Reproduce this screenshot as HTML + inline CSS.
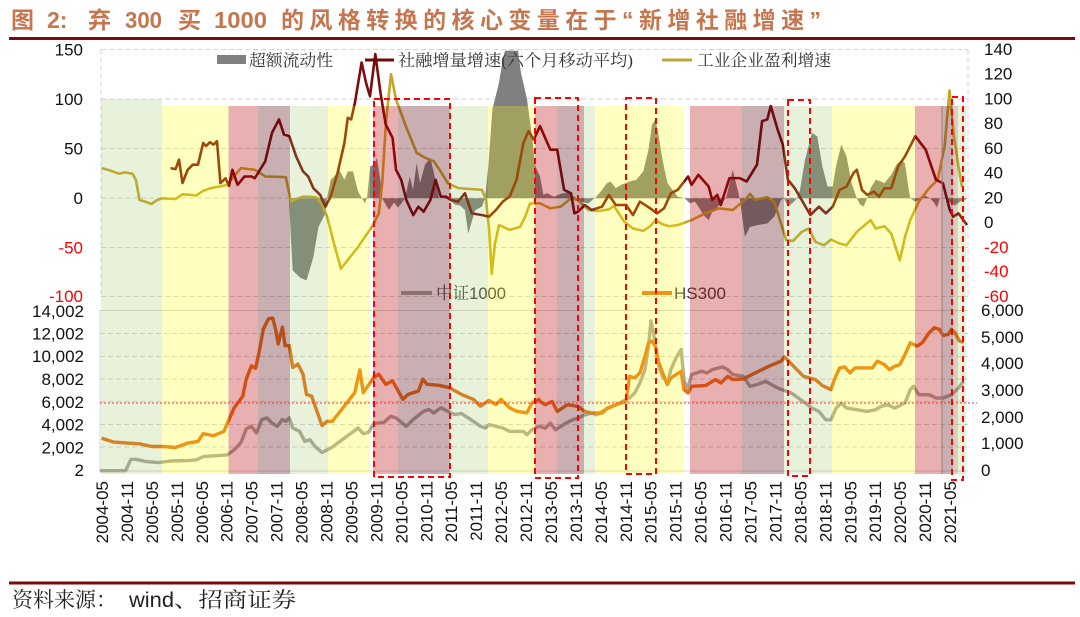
<!DOCTYPE html>
<html><head><meta charset="utf-8"><style>
html,body{margin:0;padding:0;background:#fff;}
svg{display:block;}
.ax{font-family:"Liberation Sans",sans-serif;font-size:17px;fill:#111;}
.neg{fill:#ff0000;}
.lg{font-family:"Liberation Serif","Noto Serif CJK SC",serif;font-size:16.5px;fill:#333;}
</style></head><body>
<svg width="1080" height="617" viewBox="0 0 1080 617" xmlns="http://www.w3.org/2000/svg">
<!-- Title -->
<g font-family="'Liberation Sans','Noto Sans CJK SC',sans-serif" font-size="23" font-weight="bold" fill="#c5764f">
<text x="11" y="28">图</text>
<text x="47" y="28">2:</text>
<text x="88" y="28">弃</text>
<text x="125" y="28" textLength="37" lengthAdjust="spacingAndGlyphs">300</text>
<text x="178" y="28">买</text>
<text x="214" y="28" textLength="53" lengthAdjust="spacingAndGlyphs">1000</text>
<text x="281" y="28" textLength="540" lengthAdjust="spacing">的风格转换的核心变量在于“新增社融增速”</text>
</g>
<rect x="9" y="37" width="1066" height="3" fill="#7f0a0a"/>

<!-- Gridlines top -->
<g stroke="#d4d4d4" stroke-width="1" stroke-dasharray="5,3" fill="none">
<line x1="101" y1="49.5" x2="968" y2="49.5"/>
<line x1="101" y1="99" x2="968" y2="99"/>
<line x1="101" y1="148.5" x2="968" y2="148.5"/>
<line x1="101" y1="198" x2="968" y2="198"/>
<line x1="101" y1="247.5" x2="968" y2="247.5"/>
<line x1="101" y1="296.5" x2="968" y2="296.5"/>
<line x1="101" y1="49.5" x2="101" y2="296.5"/>
<line x1="968" y1="49.5" x2="968" y2="296.5"/>
</g>
<!-- Gridlines bottom -->
<g stroke="#d4d4d4" stroke-width="1" fill="none">
<line x1="100" y1="310.5" x2="968" y2="310.5"/>
<g stroke-dasharray="5,3">
<line x1="100" y1="333.5" x2="968" y2="333.5"/>
<line x1="100" y1="356.5" x2="968" y2="356.5"/>
<line x1="100" y1="379" x2="968" y2="379"/>
<line x1="100" y1="401.5" x2="968" y2="401.5"/>
<line x1="100" y1="424.5" x2="968" y2="424.5"/>
<line x1="100" y1="447" x2="968" y2="447"/>
</g>
<line x1="100" y1="310" x2="100" y2="471"/>
<line x1="100" y1="471" x2="968" y2="471"/>
</g>

<!-- Top series -->
<g transform="matrix(1,0,0,0.9745,0,4.77)">
<path fill="#808080" d="M289,198.6 L291,241.6 292.7,272.6 300,280 306.5,283 313.4,258.8 318.5,227.9 325.4,214 327,198.6 330.6,179.6 335.7,174.5 339.2,169.3 344.4,179.6 347.8,171 353,171 358.1,191.7 362,198.6 365,203.7 367,198.6 370.2,165.9 373.6,164.1 377,157.3 380.5,181.4 382,198.6 389,210.6 394,203 398,208 402,203 405,198.6 409.8,176.2 413,190 416.7,162.4 420,183 425,164 430.4,157.3 434,173 439,198.6 447,199 455,205 460,206 464.9,210.6 468.3,234.7 475,211 482,207 485,198.6 488.3,165.9 492.4,107.3 499,80 503,55 505,47 518,47 521,70 527,97 532,135 535.5,166 540,176.2 543.4,195 547,193.4 553.8,196.9 560.7,194 567.5,192.7 574.4,197 578,199.6 581.3,202 588,204 593,199.6 595,198.6 602,190 607,183 610.6,181.4 615.8,188.3 621,184.8 629.5,181.4 636.4,179.6 643.3,171 648.5,148.7 652,122.8 655.4,117.7 658.8,134.9 662.2,157.3 667.4,183 677.7,196.9 684.6,198.6 689.8,203.7 695,202 698.4,207.2 703.6,215.8 708.7,221 712,213 720,205 726,198.6 732.8,169.3 739.7,198.6 744.9,238.2 750,227.9 758,226 767.3,224.4 774.2,217.5 781,200.3 784,198.6 788,207.2 793,203 797,198.6 800,190 805,159 812,131.4 817.2,134.9 822.4,165.9 827.5,186.5 832.7,186.5 836,165.9 841.3,143.5 846.5,155.5 851.6,183 856.8,198.6 860,205 863.7,207.2 867,198.6 870.6,188.3 875.7,179.6 880,181 884.4,183 891.2,174.5 896.4,164.1 901.6,159 905,163 908,185 910.2,198.6 915,202 920,200 925,196 930,198.6 934,203 937,208 940,198.6 945,198 950,203 955,206 960,202 965,200 967,198.6 Z"/>
<path fill="none" stroke="#c3a528" stroke-width="2.6" stroke-linejoin="round" d="M101.6,167.6 L110,170 118.8,173.4 125,172 132.6,173.4 136,180 139.5,200.3 145,202 151.5,204.4 156,201 161.8,198.6 168,199 175.6,199.3 182.5,194.5 190,195 196.3,195.8 203,191 210,188.3 220,186.5 227.3,184.8 234,176 241,167.6 248,168.5 254.8,169.3 265.2,176.2 275,176.5 285.8,176.9 291,202 297,199 303,196.9 310,197 316.8,197.9 322,205 327.1,217.5 334,245 340.9,270.9 350,259 358.1,248.5 365,238 371.9,227.9 378.8,214.1 382.2,183.1 386,120 391,71.3 396,97 406,125 416.7,152 425,157 433.9,160.7 440,170 447.7,183 458,188 470,189 482,190 486,200 489,228 491.7,276 495,245 499,226 509.6,231 520,228 525,218 530,204 540,203.7 550.3,208.9 560.7,207.2 571,198.6 577.9,200.3 588.2,210.6 598.5,211.7 608.9,210 614,206.5 624.4,222.7 633,229.6 643.3,232 650.2,227.2 655.4,221 662.2,225.1 669.1,227.2 677.7,226.1 691.5,221 705.3,214 719,208.9 732.8,210.6 746.6,198.6 750,194.1 755.2,200.3 767.3,197.6 774.2,202 781,224.4 786.2,241.6 793.1,242.3 801.7,233 808.6,229.6 815.5,243.3 824.1,246.8 831,240.9 839.6,245 846.5,246.8 856.8,233 870.6,221 875.7,229.6 884.4,227.2 891.2,234.7 899.8,262.3 905,238.2 910.2,221 918.8,202 929.1,188.3 937.7,179.6 944.6,145.2 949.5,88 954,135 958.5,166 962,187"/>
<path fill="none" stroke="#7b0d0d" stroke-width="2.6" stroke-linejoin="round" d="M170.5,167.6 L175.6,168.6 179,159 182.5,183 187.7,169.3 192.8,164.1 198,164.1 203.2,141.8 206,145 210,141 213.5,143.5 217,140 220.4,183 225.5,178 229,185.8 232.4,169.3 237.6,184.8 244.5,176.2 251.4,176.2 254.8,178 260,169.3 265.2,160.7 272,131.4 279,117.7 284,133.2 289.3,134.9 296.1,155.5 303,171 308.2,176.2 313.4,188.3 320.2,195.1 325.4,207.2 330.6,196.9 337.5,172.8 344.4,141.8 347.8,115.9 351.2,117.7 355,100 361.6,59.2 366,80 370,93.9 375.3,50.5 380.5,90.5 385.7,122.8 392.6,136.6 396,169.3 401.2,179.6 406.3,200.3 413.2,215.8 418.4,207.2 423.6,212.4 430.4,200.3 435.6,179.6 440.8,196.9 445.9,196.9 451.1,200.3 458,202 464.9,193.4 471.8,214 482.1,215.8 489,217.5 495.9,210.6 502.8,202 509.6,196.9 516.5,179.6 523.4,141.8 528.6,129.7 533.7,138.3 540,124.5 550.3,148.7 557.2,148.7 564.1,190 571,193.4 574.4,214 577.9,212.4 584.8,205.5 591.7,210.6 602,207.2 608.9,195.1 615.8,205.5 626.1,205.5 633,215.8 639.9,202 650.2,208.9 657.1,214 664,208.9 670.9,193.4 677.7,190 688.1,176.2 691.5,184.8 698.4,174.5 708.7,186.5 712.2,200.3 717.3,195.1 720.8,205.5 729.4,177.9 739.7,177.9 746.6,181.4 757,164.1 762.1,119.4 767.3,117.7 770.7,103.9 777.6,128 782.8,143.5 787.9,179.6 794.8,188.3 801.7,200.3 810.3,215.8 818.9,207.2 825.8,214 832.7,207.2 839.6,190 846.5,186.5 853.4,172.8 856.8,169.3 862,190 867.1,195.1 874,191.7 879.2,196.9 884.4,188.3 891.2,188.3 898.1,165.9 905,155.5 915.3,134.9 925.7,148.7 936,179.6 942.9,183.1 949.8,210.6 953.2,217.5 958.4,214 967,226"/>
</g>

<!-- Bottom legend (under bands) -->
<line x1="401" y1="293" x2="432" y2="293" stroke="#aaa59f" stroke-width="4"/>
<text x="436" y="299" font-family="'Liberation Sans','Noto Serif CJK SC',sans-serif" font-size="17" fill="#404040" textLength="70" lengthAdjust="spacingAndGlyphs">中证1000</text>
<line x1="642" y1="293" x2="672" y2="293" stroke="#e4731b" stroke-width="4"/>
<text x="674" y="299" font-family="'Liberation Sans',sans-serif" font-size="17" fill="#404040">HS300</text>

<!-- Bottom series -->
<path fill="none" stroke="#aaa59f" stroke-width="3.4" stroke-linejoin="round" d="M99.9,470.7 L125.7,470.7 130.9,459.3 136,459.3 146.3,461.6 158.4,462.6 170.5,461 187.7,460.6 196.3,459.9 203.2,456.6 227.3,454.9 234.2,449.8 241,442.5 246.2,429 251.4,426.3 256.5,433 261.7,419.6 266.9,417.9 272,423 277.2,426.3 282.4,419.6 285.8,421.3 289.3,417.9 292.7,428 299.6,431.4 304.8,441.4 309.9,439.8 315.1,446.5 322,452.5 330.6,448.2 344.4,438.1 358.1,428 363.3,433.7 368.5,432.4 373.6,423.6 384,422.3 390.8,416.2 396,417.9 406.3,426.3 413.2,419.6 423.6,411.2 428.7,409.5 433.9,412.9 440.8,407.8 454.5,414.5 461.4,413.5 468.3,417.9 480.4,426.3 485.5,428 489,424.6 502.8,428 509.6,431.4 523.4,431.4 526.9,434.7 532,429.7 538.9,426.3 540,426.5 545.2,428.1 550.3,423.1 555.5,429.8 560.7,426.5 565.8,423.1 572.7,419.8 577.9,418.1 584.8,414.8 591.7,413.1 596.8,414.8 602,411.4 608.9,408.1 619.2,403 629.5,398 634.7,393 639.9,383 645,369.6 648.5,346.1 650.9,321 653.6,332.8 657.1,359.5 662.2,376.3 667.4,383 670.9,369.6 676,357.9 681.2,349.5 683.9,379.6 687.4,389.7 691.5,374.6 701.8,371.3 707,373 712.2,369.6 722.5,366.9 727.7,369.6 732.8,374.6 743.2,376.3 750,386.3 756.9,384.6 765.5,381.3 777.6,388 791.4,393 805.2,403 812,408.1 818.9,411.4 825.8,419.8 831,419.8 836.1,408.1 841.3,403 846.5,408.1 856.8,409.7 867.1,411.4 875.7,409.7 880.9,406.4 887.8,404.7 894.7,408.1 905,403 910.2,389.7 913.6,386.3 918.8,394.7 929.1,394.7 936,398 942.9,398 951.5,394.7 958.4,388 963.6,381.3"/>
<path fill="none" stroke="#e4731b" stroke-width="3.4" stroke-linejoin="round" d="M101.6,438.1 L113.6,442.1 127.4,443.1 139.5,443.8 151.5,446.5 163.6,446.5 175.6,447.5 187.7,443.1 198,441.4 203.2,433.7 213.5,435.7 223.8,431.4 229,419.6 234.2,407.8 242.8,396.1 246.2,379.2 251.4,365.8 255.5,368.5 259,352.4 263.4,328.8 268.6,318.7 272.7,318.1 275.5,328.8 278.2,343.9 282.4,327.1 285.1,345.6 289.3,345.6 292.7,367.5 297.9,364.1 303,374.2 306.5,394.4 311.6,396.1 322,425.6 327.1,421.3 332.3,421.3 344.4,406.1 354.7,392.7 359.8,369.8 363.3,392.7 373.6,377.6 378.8,374.2 385.7,384.3 392.6,380.9 402.9,399.4 408.1,394.4 418.4,391 422.9,379.2 427,384.3 439,385.3 449.4,387.7 461.4,394.4 473.5,399.4 480.4,406.1 489,400.4 495.9,404.5 501,399.4 509.6,407.8 516.5,411.2 526.9,412.9 532,402.8 538.9,399.4 540,401.4 545.2,404.7 552.1,401.4 557.2,411.4 567.5,404.7 577.9,406.4 584.8,411.4 591.7,413.1 602,413.1 607.1,408.1 620.9,403 626.1,401.4 629.5,376.3 634.7,377.9 639.9,372.9 645,356.2 648.5,342.8 651.9,341.1 655.4,346.1 658.8,362.9 664,376.3 667.4,384.6 670.9,377.9 681.2,371.3 683.9,389.7 688.1,393 691.5,386.3 705.3,385.6 715.6,379.6 720.8,383 727.7,376.3 732.8,379.6 743.2,379 755.2,372.9 769,366.2 781,361.2 784.5,356.9 789.7,362.2 803.4,376.3 815.5,379.6 822.4,385.6 831,389.7 834.4,379.6 839.6,367.9 844.8,366.9 849.9,372.9 855.1,367.9 872.3,367.9 877.5,361.2 884.4,364.6 889.5,369.6 894.7,366.2 899.8,364.6 905,354.5 910.2,342.8 917.1,346.1 922.2,342.8 929.1,332.8 934.3,327.7 939.5,329.4 942.9,335.4 948.1,334.4 951.5,329.4 955,332.8 959.4,341.1 963.6,342.1"/>

<!-- Band overlays -->
<g>
<rect x="101" y="99" width="61" height="375" fill="rgb(150,190,80)" fill-opacity="0.22"/>
<rect x="162" y="106" width="66.5" height="368" fill="rgb(255,255,0)" fill-opacity="0.25"/>
<rect x="228.5" y="106" width="29.5" height="368" fill="rgb(180,0,0)" fill-opacity="0.31"/>
<rect x="258" y="106" width="32" height="368" fill="rgb(90,10,20)" fill-opacity="0.33"/>
<rect x="290" y="106" width="38" height="368" fill="rgb(150,190,80)" fill-opacity="0.22"/>
<rect x="328" y="106" width="42" height="368" fill="rgb(255,255,0)" fill-opacity="0.25"/>
<rect x="373" y="106" width="25" height="368" fill="rgb(180,0,0)" fill-opacity="0.31"/>
<rect x="398" y="106" width="52" height="368" fill="rgb(90,10,20)" fill-opacity="0.33"/>
<rect x="450" y="106" width="38" height="368" fill="rgb(150,190,80)" fill-opacity="0.22"/>
<rect x="488" y="106" width="47" height="368" fill="rgb(255,255,0)" fill-opacity="0.25"/>
<rect x="535" y="106" width="22" height="368" fill="rgb(180,0,0)" fill-opacity="0.31"/>
<rect x="557" y="106" width="27" height="368" fill="rgb(90,10,20)" fill-opacity="0.33"/>
<rect x="584" y="106" width="11" height="368" fill="rgb(150,190,80)" fill-opacity="0.22"/>
<rect x="595" y="106" width="89" height="368" fill="rgb(255,255,0)" fill-opacity="0.25"/>
<rect x="690" y="106" width="52" height="368" fill="rgb(180,0,0)" fill-opacity="0.31"/>
<rect x="742" y="106" width="42" height="368" fill="rgb(90,10,20)" fill-opacity="0.33"/>
<rect x="784" y="106" width="48" height="368" fill="rgb(150,190,80)" fill-opacity="0.22"/>
<rect x="832" y="106" width="83" height="368" fill="rgb(255,255,0)" fill-opacity="0.25"/>
<rect x="915" y="106" width="27" height="368" fill="rgb(180,0,0)" fill-opacity="0.31"/>
<rect x="942" y="106" width="11" height="368" fill="rgb(90,10,20)" fill-opacity="0.33"/>
<rect x="953" y="106" width="5" height="368" fill="rgb(120,100,40)" fill-opacity="0.3"/>
<rect x="958" y="106" width="8" height="368" fill="rgb(150,190,80)" fill-opacity="0.22"/>
<line x1="942" y1="106" x2="942" y2="474" stroke="#9c7a7c" stroke-width="1"/>
</g>

<!-- Red dotted level line -->
<line x1="100" y1="403" x2="977" y2="403" stroke="#ff3030" stroke-width="1" stroke-dasharray="2,2"/>

<!-- Red dashed boxes -->
<g fill="none" stroke="#ff0000" stroke-width="2" stroke-dasharray="6,4">
<rect x="374" y="99" width="76" height="378"/>
<rect x="535" y="98" width="43" height="380"/>
<rect x="626" y="98" width="30" height="376"/>
<rect x="788" y="100" width="22" height="376"/>
<rect x="952" y="97" width="11" height="383"/>
</g>

<!-- Top legend -->
<rect x="217" y="55" width="29" height="9" fill="#808080"/>
<text class="lg" x="249" y="66" textLength="84" lengthAdjust="spacingAndGlyphs">超额流动性</text>
<line x1="365" y1="60" x2="394" y2="60" stroke="#6e0c0c" stroke-width="3"/>
<text class="lg" x="398" y="66" textLength="235" lengthAdjust="spacingAndGlyphs">社融增量增速(六个月移动平均)</text>
<line x1="662" y1="60" x2="692" y2="60" stroke="#bfa43c" stroke-width="3"/>
<text class="lg" x="697" y="66" textLength="134" lengthAdjust="spacingAndGlyphs">工业企业盈利增速</text>

<!-- Left axis labels -->
<g class="ax" text-anchor="end">
<text x="83" y="55.5">150</text>
<text x="83" y="105">100</text>
<text x="83" y="154.5">50</text>
<text x="83" y="204">0</text>
<text x="83" y="253.5" class="ax neg">-50</text>
<text x="83" y="302" class="ax neg">-100</text>
<text x="84" y="317">14,002</text>
<text x="84" y="339.5">12,002</text>
<text x="84" y="362">10,002</text>
<text x="84" y="385">8,002</text>
<text x="84" y="408">6,002</text>
<text x="84" y="430.5">4,002</text>
<text x="84" y="453.5">2,002</text>
<text x="84" y="476">2</text>
</g>
<!-- Right axis labels -->
<g class="ax">
<text x="984" y="55">140</text>
<text x="984" y="79.5">120</text>
<text x="984" y="104.5">100</text>
<text x="984" y="129">80</text>
<text x="984" y="154">60</text>
<text x="984" y="178.5">40</text>
<text x="984" y="203.5">20</text>
<text x="984" y="228">0</text>
<text x="984" y="253" class="ax neg">-20</text>
<text x="984" y="277" class="ax neg">-40</text>
<text x="984" y="302" class="ax neg">-60</text>
<text x="981" y="316">6,000</text>
<text x="981" y="343">5,000</text>
<text x="981" y="369">4,000</text>
<text x="981" y="396">3,000</text>
<text x="981" y="423">2,000</text>
<text x="981" y="449">1,000</text>
<text x="981" y="476">0</text>
</g>

<!-- X axis labels -->
<g class="ax" text-anchor="end">
<text transform="translate(108,481) rotate(-90)">2004-05</text>
<text transform="translate(132.9,481) rotate(-90)">2004-11</text>
<text transform="translate(157.9,481) rotate(-90)">2005-05</text>
<text transform="translate(182.8,481) rotate(-90)">2005-11</text>
<text transform="translate(207.8,481) rotate(-90)">2006-05</text>
<text transform="translate(232.7,481) rotate(-90)">2006-11</text>
<text transform="translate(257.7,481) rotate(-90)">2007-05</text>
<text transform="translate(282.6,481) rotate(-90)">2007-11</text>
<text transform="translate(307.5,481) rotate(-90)">2008-05</text>
<text transform="translate(332.5,481) rotate(-90)">2008-11</text>
<text transform="translate(357.4,481) rotate(-90)">2009-05</text>
<text transform="translate(382.4,481) rotate(-90)">2009-11</text>
<text transform="translate(407.3,481) rotate(-90)">2010-05</text>
<text transform="translate(432.3,481) rotate(-90)">2010-11</text>
<text transform="translate(457.2,481) rotate(-90)">2011-05</text>
<text transform="translate(482.1,481) rotate(-90)">2011-11</text>
<text transform="translate(507.1,481) rotate(-90)">2012-05</text>
<text transform="translate(532,481) rotate(-90)">2012-11</text>
<text transform="translate(557,481) rotate(-90)">2013-05</text>
<text transform="translate(581.9,481) rotate(-90)">2013-11</text>
<text transform="translate(606.8,481) rotate(-90)">2014-05</text>
<text transform="translate(631.8,481) rotate(-90)">2014-11</text>
<text transform="translate(656.7,481) rotate(-90)">2015-05</text>
<text transform="translate(681.7,481) rotate(-90)">2015-11</text>
<text transform="translate(706.6,481) rotate(-90)">2016-05</text>
<text transform="translate(731.6,481) rotate(-90)">2016-11</text>
<text transform="translate(756.5,481) rotate(-90)">2017-05</text>
<text transform="translate(781.4,481) rotate(-90)">2017-11</text>
<text transform="translate(806.4,481) rotate(-90)">2018-05</text>
<text transform="translate(831.3,481) rotate(-90)">2018-11</text>
<text transform="translate(856.3,481) rotate(-90)">2019-05</text>
<text transform="translate(881.2,481) rotate(-90)">2019-11</text>
<text transform="translate(906.2,481) rotate(-90)">2020-05</text>
<text transform="translate(931.1,481) rotate(-90)">2020-11</text>
<text transform="translate(956,481) rotate(-90)">2021-05</text>
</g>

<!-- Footer -->
<rect x="9" y="581.5" width="1066" height="3" fill="#7f0a0a"/>
<text x="12" y="607" font-family="'Liberation Serif','Noto Serif CJK SC',serif" font-size="21" fill="#222" textLength="105" lengthAdjust="spacingAndGlyphs">资料来源：</text>
<text x="129" y="607" font-family="'Liberation Sans',sans-serif" font-size="21" fill="#222" textLength="45" lengthAdjust="spacingAndGlyphs">wind</text>
<text x="174" y="607" font-family="'Liberation Serif','Noto Serif CJK SC',serif" font-size="21" fill="#222" textLength="122" lengthAdjust="spacingAndGlyphs">、招商证券</text>
</svg>
</body></html>
